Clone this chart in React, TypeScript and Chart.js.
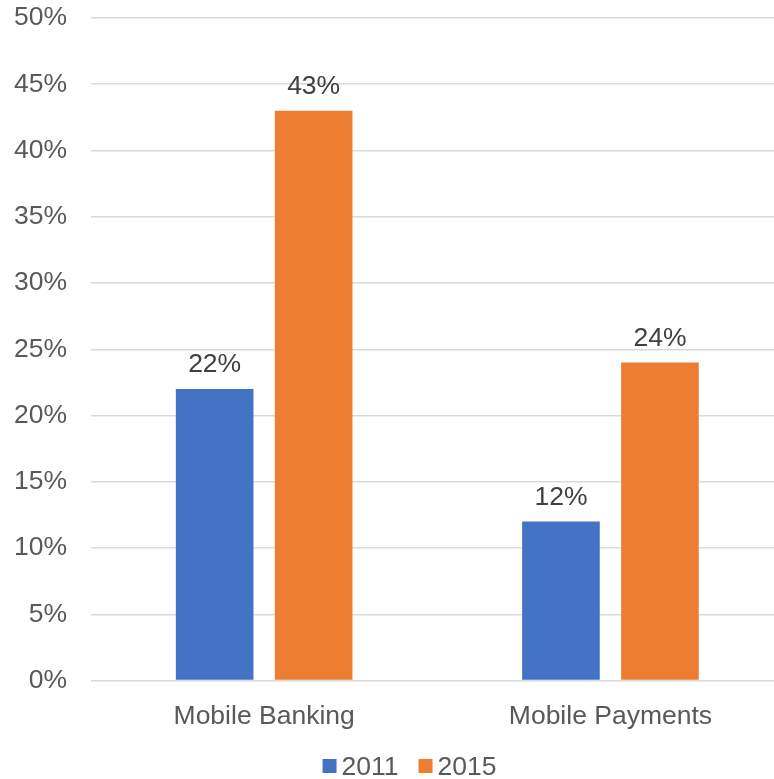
import React, { useEffect, useRef } from "react";
import { Chart, registerables } from "chart.js";

Chart.register(...registerables);

const categories = ["Mobile Banking", "Mobile Payments"];
const seriesNames = ["2011", "2015"];
const values2011 = [22, 12];
const values2015 = [43, 24];
const seriesColors = ["#4472C4", "#ED7D31"];
const yMin = 0;
const yMax = 50;
const yStep = 5;

const FONT = '"Liberation Sans", Arial, sans-serif';
const FONT_SIZE = 26.5;
const AXIS_COLOR = "#595959";
const LABEL_COLOR = "#404040";
const GRID_COLOR = "#D9D9D9";

const CANVAS_W = 819;
const CANVAS_H = 779;

const dataLabelPlugin = {
  id: "dataLabels",
  afterDatasetsDraw(chart: any) {
    const ctx = chart.ctx;
    ctx.save();
    ctx.font = `${FONT_SIZE}px ${FONT}`;
    ctx.fillStyle = LABEL_COLOR;
    ctx.textAlign = "center";
    ctx.textBaseline = "alphabetic";
    chart.data.datasets.forEach((ds: any, i: number) => {
      chart.getDatasetMeta(i).data.forEach((bar: any, j: number) => {
        ctx.fillText(`${ds.data[j]}%`, bar.x, bar.y - 17);
      });
    });
    ctx.restore();
  },
};

const legendPlugin = {
  id: "customLegend",
  afterDraw(chart: any) {
    const ctx = chart.ctx;
    ctx.save();
    ctx.font = `${FONT_SIZE}px ${FONT}`;
    const box = 14;
    const gap = 5;
    const spacing = 20;
    const items = chart.data.datasets.map((ds: any) => ({
      text: ds.label,
      color: ds.backgroundColor,
      w: ctx.measureText(ds.label).width,
    }));
    const total =
      items.reduce((s: number, it: any) => s + box + gap + it.w, 0) +
      spacing * (items.length - 1);
    let x = chart.width / 2 - total / 2;
    const cy = chart.height - 13;
    items.forEach((it: any) => {
      ctx.fillStyle = it.color;
      ctx.fillRect(x, cy - box / 2, box, box);
      x += box + gap;
      ctx.fillStyle = AXIS_COLOR;
      ctx.textAlign = "left";
      ctx.textBaseline = "alphabetic";
      ctx.fillText(it.text, x, cy + 9.4);
      x += it.w + spacing;
    });
    ctx.restore();
  },
};

export default function App() {
  const ref = useRef<HTMLCanvasElement | null>(null);

  useEffect(() => {
    if (!ref.current) return;
    const chart = new Chart(ref.current, {
      type: "bar",
      data: {
        labels: categories,
        datasets: [
          {
            label: seriesNames[0],
            data: values2011,
            backgroundColor: seriesColors[0],
            categoryPercentage: 0.5718,
            barPercentage: 0.784,
          },
          {
            label: seriesNames[1],
            data: values2015,
            backgroundColor: seriesColors[1],
            categoryPercentage: 0.5718,
            barPercentage: 0.784,
          },
        ],
      },
      options: {
        responsive: false,
        animation: false,
        devicePixelRatio: 1,
        layout: { padding: { left: 0, right: 35.4, top: 18, bottom: 28.5 } },
        plugins: {
          legend: { display: false },
          tooltip: { enabled: false },
        },
        scales: {
          x: {
            grid: { display: false },
            border: { display: false },
            ticks: {
              color: AXIS_COLOR,
              font: { family: FONT, size: FONT_SIZE },
              padding: 12,
              maxRotation: 0,
            },
            afterFit(scale: any) {
              scale.height = 70;
              scale.paddingLeft = 0;
              scale.paddingRight = 0;
            },
          },
          y: {
            min: yMin,
            max: yMax,
            grid: { color: GRID_COLOR, lineWidth: 1.5, drawTicks: false },
            border: { display: false },
            ticks: {
              stepSize: yStep,
              color: AXIS_COLOR,
              font: { family: FONT, size: FONT_SIZE },
              padding: 24,
              callback: (v: any) => `${v}%`,
            },
            afterFit(scale: any) {
              scale.width = 91;
              scale.paddingTop = 0;
              scale.paddingBottom = 0;
            },
          },
        },
      },
      plugins: [dataLabelPlugin, legendPlugin],
    });
    return () => chart.destroy();
  }, []);

  return (
    <div
      style={{
        position: "absolute",
        left: 0,
        top: 0,
        width: 774,
        height: 779,
        overflow: "hidden",
        background: "#fff",
      }}
    >
      <canvas
        ref={ref}
        width={CANVAS_W}
        height={CANVAS_H}
        style={{ display: "block", width: CANVAS_W, height: CANVAS_H }}
      />
    </div>
  );
}
